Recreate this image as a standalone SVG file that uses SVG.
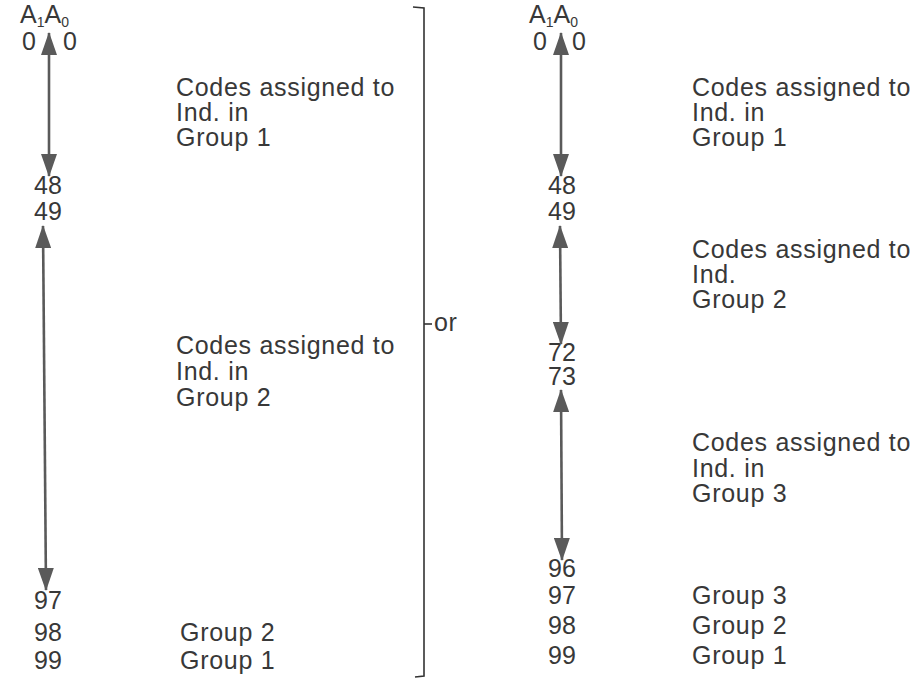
<svg xmlns="http://www.w3.org/2000/svg" width="920" height="679" viewBox="0 0 920 679">
  <style>
    text { font-family: "Liberation Sans", Arial, sans-serif; font-size: 25px; fill: #383838; letter-spacing: 0.7px; }
    .num { letter-spacing: 0; }
    .sub { font-size: 14px; }
    .conn { stroke: #5a5a5a; stroke-width: 2.6; fill: none; }
    .brk { stroke: #333; stroke-width: 1.6; fill: none; }
  </style>
  <defs>
    <marker id="head" markerUnits="userSpaceOnUse" markerWidth="24" markerHeight="16" refX="22" refY="8" orient="auto-start-reverse">
      <path d="M0,0 L23,8 L0,16 Z" fill="#5a5a5a"/>
    </marker>
  </defs>

  <rect width="920" height="679" fill="#ffffff"/>

  <!-- left scheme: two groups -->
  <g id="left-header">
    <text class="num" x="20" y="23">A<tspan class="sub" dy="4">1</tspan><tspan dy="-4">A</tspan><tspan class="sub" dy="4">0</tspan></text>
    <text class="num" x="22" y="50">0</text>
    <text class="num" x="63" y="50">0</text>
  </g>
  <g id="left-codes">
    <text class="num" x="34" y="194">48</text>
    <text class="num" x="34" y="220">49</text>
    <text class="num" x="34" y="609">97</text>
    <text class="num" x="34" y="641">98</text>
    <text class="num" x="34" y="669">99</text>
  </g>
  <g id="left-group1">
    <text x="176" y="96">Codes assigned to</text>
    <text x="176" y="121">Ind. in</text>
    <text x="176" y="146">Group 1</text>
  </g>
  <g id="left-group2">
    <text x="176" y="354">Codes assigned to</text>
    <text x="176" y="380">Ind. in</text>
    <text x="176" y="406">Group 2</text>
  </g>
  <g id="left-reserved">
    <text x="180" y="641">Group 2</text>
    <text x="180" y="669">Group 1</text>
  </g>

  <!-- bracket joining the two schemes -->
  <g id="bracket">
    <path class="brk" d="M413,7 L424,8 L424,676 L415,677"/>
    <path class="brk" d="M424,324 L432,324"/>
    <text x="434" y="331">or</text>
  </g>

  <!-- right scheme: three groups -->
  <g id="right-header">
    <text class="num" x="529" y="23">A<tspan class="sub" dy="4">1</tspan><tspan dy="-4">A</tspan><tspan class="sub" dy="4">0</tspan></text>
    <text class="num" x="533" y="50">0</text>
    <text class="num" x="572" y="50">0</text>
  </g>
  <g id="right-codes">
    <text class="num" x="548" y="194">48</text>
    <text class="num" x="548" y="220">49</text>
    <text class="num" x="548" y="361">72</text>
    <text class="num" x="548" y="385">73</text>
    <text class="num" x="548" y="577">96</text>
    <text class="num" x="548" y="604">97</text>
    <text class="num" x="548" y="634">98</text>
    <text class="num" x="548" y="664">99</text>
  </g>
  <g id="right-group1">
    <text x="692" y="96">Codes assigned to</text>
    <text x="692" y="121">Ind. in</text>
    <text x="692" y="146">Group 1</text>
  </g>
  <g id="right-group2">
    <text x="692" y="258">Codes assigned to</text>
    <text x="692" y="283">Ind.</text>
    <text x="692" y="308">Group 2</text>
  </g>
  <g id="right-group3">
    <text x="692" y="451">Codes assigned to</text>
    <text x="692" y="477">Ind. in</text>
    <text x="692" y="502">Group 3</text>
  </g>
  <g id="right-reserved">
    <text x="692" y="604">Group 3</text>
    <text x="692" y="634">Group 2</text>
    <text x="692" y="664">Group 1</text>
  </g>

  <!-- range arrows -->
  <g id="connectors">
    <line class="conn" x1="49" y1="33" x2="49" y2="176" marker-start="url(#head)" marker-end="url(#head)"/>
    <line class="conn" x1="43" y1="226" x2="46" y2="590" marker-start="url(#head)" marker-end="url(#head)"/>
    <line class="conn" x1="561" y1="33" x2="561" y2="176" marker-start="url(#head)" marker-end="url(#head)"/>
    <line class="conn" x1="560" y1="226" x2="561" y2="344" marker-start="url(#head)" marker-end="url(#head)"/>
    <line class="conn" x1="561" y1="390" x2="562" y2="560" marker-start="url(#head)" marker-end="url(#head)"/>
  </g>
</svg>
